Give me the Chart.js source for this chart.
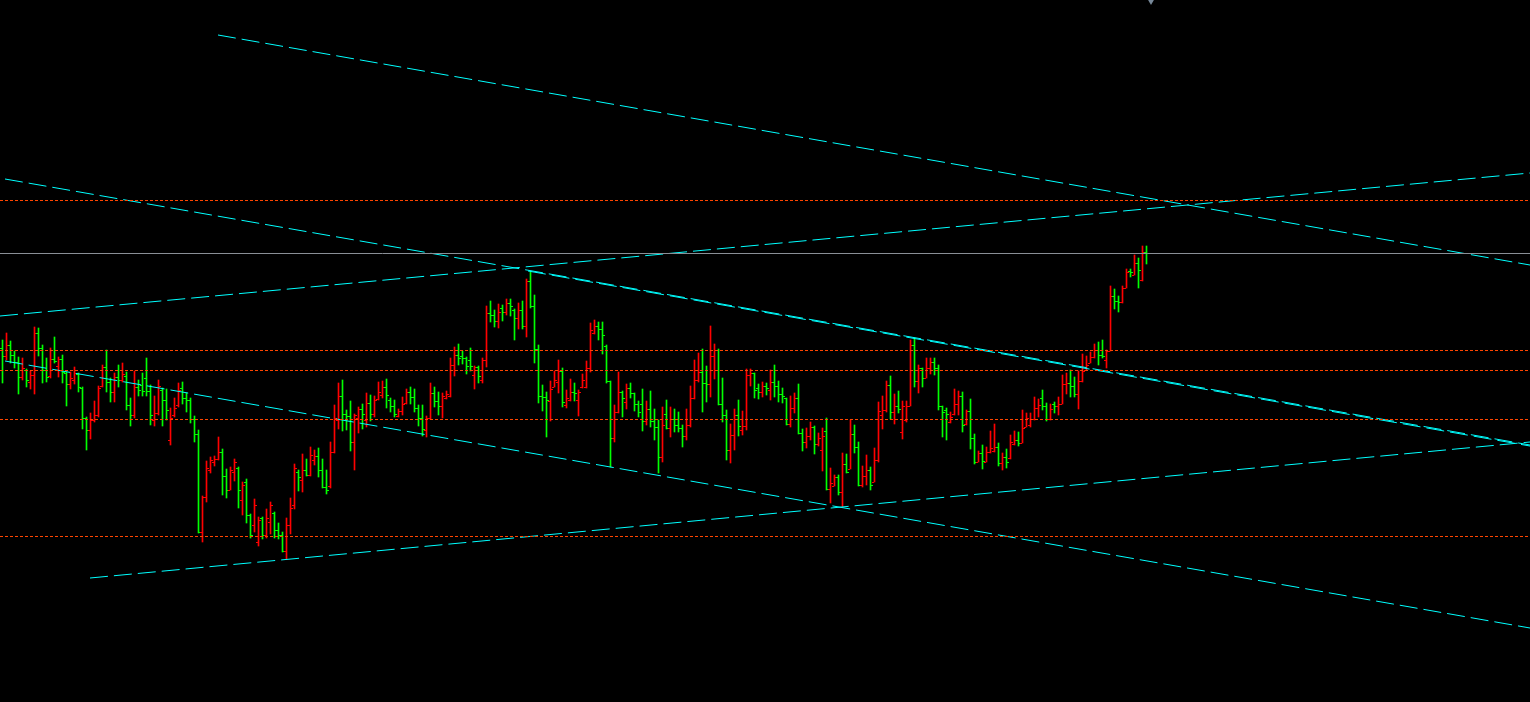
<!DOCTYPE html>
<html>
<head>
<meta charset="utf-8">
<script src="https://cdn.jsdelivr.net/npm/chart.js@4.4.1/dist/chart.umd.min.js"></script>
<style>
  html, body { margin: 0; padding: 0; background: #000; overflow: hidden; }
  #wrap { width: 1530px; height: 702px; background: #000; }
</style>
</head>
<body>
<div id="wrap"><canvas id="chart" width="1530" height="702"></canvas></div>
<script>
// OHLC bars, one per index (oldest first)
const opens = [
  1.3652,1.3644,1.3655,1.3645,1.3638,1.3623,1.3630,1.3618,1.3625,1.3667,
  1.3652,1.3630,1.3624,1.3641,1.3634,1.3641,1.3627,1.3616,1.3620,1.3626,
  1.3612,1.3582,1.3570,1.3580,1.3585,1.3614,1.3633,1.3618,1.3608,1.3623,
  1.3620,1.3624,1.3595,1.3585,1.3613,1.3615,1.3622,1.3609,1.3580,1.3587,
  1.3610,1.3600,1.3560,1.3585,1.3595,1.3612,1.3602,1.3600,1.3581,1.3566,
  1.3468,1.3503,1.3530,1.3538,1.3541,1.3548,1.3524,1.3510,1.3528,1.3532,
  1.3500,1.3518,1.3485,1.3475,1.3458,1.3482,1.3465,1.3478,1.3487,1.3470,
  1.3465,1.3449,1.3475,1.3495,1.3528,1.3520,1.3530,1.3525,1.3540,1.3544,
  1.3530,1.3513,1.3514,1.3548,1.3580,1.3604,1.3586,1.3584,1.3558,1.3582,
  1.3591,1.3580,1.3597,1.3586,1.3601,1.3605,1.3613,1.3600,1.3594,1.3584,
  1.3589,1.3597,1.3608,1.3603,1.3592,1.3582,1.3570,1.3582,1.3607,1.3599,
  1.3594,1.3602,1.3604,1.3635,1.3645,1.3644,1.3642,1.3640,1.3625,1.3633,
  1.3620,1.3640,1.3687,1.3685,1.3679,1.3692,1.3688,1.3697,1.3690,1.3682,
  1.3690,1.3674,1.3719,1.3694,1.3651,1.3604,1.3603,1.3599,1.3613,1.3618,
  1.3629,1.3595,1.3600,1.3608,1.3600,1.3613,1.3613,1.3632,1.3667,1.3674,
  1.3671,1.3654,1.3619,1.3562,1.3588,1.3608,1.3598,1.3612,1.3607,1.3596,
  1.3596,1.3579,1.3591,1.3579,1.3573,1.3543,1.3586,1.3572,1.3581,1.3575,
  1.3572,1.3564,1.3575,1.3602,1.3620,1.3628,1.3617,1.3616,1.3644,1.3650,
  1.3596,1.3585,1.3550,1.3565,1.3585,1.3570,1.3574,1.3625,1.3627,1.3612,
  1.3608,1.3614,1.3610,1.3618,1.3614,1.3606,1.3602,1.3576,1.3592,1.3602,
  1.3567,1.3558,1.3564,1.3573,1.3556,1.3550,1.3569,1.3511,1.3514,1.3523,
  1.3508,1.3536,1.3531,1.3566,1.3553,1.3515,1.3524,1.3530,1.3518,1.3540,
  1.3585,1.3590,1.3615,1.3588,1.3594,1.3568,1.3580,1.3594,1.3655,1.3619,
  1.3632,1.3622,1.3632,1.3638,1.3632,1.3594,1.3590,1.3578,1.3586,1.3596,
  1.3604,1.3576,1.3589,1.3562,1.3538,1.3547,1.3538,1.3548,1.3549,1.3553,
  1.3537,1.3543,1.3542,1.3556,1.3560,1.3557,1.3573,1.3575,1.3581,1.3592,
  1.3602,1.3594,1.3581,1.3596,1.3594,1.3596,1.3616,1.3617,1.3614,1.3606,
  1.3619,1.3630,1.3637,1.3643,1.3650,1.3645,1.3640,1.3649,1.3704,1.3699,
  1.3698,1.3712,1.3729,1.3725,1.3737,1.3720,1.3748
];
const highs = [
  1.3660,1.3667,1.3659,1.3649,1.3643,1.3642,1.3631,1.3629,1.3673,1.3672,
  1.3655,1.3642,1.3652,1.3663,1.3643,1.3645,1.3628,1.3628,1.3633,1.3627,
  1.3613,1.3583,1.3587,1.3599,1.3614,1.3635,1.3650,1.3622,1.3627,1.3635,
  1.3637,1.3628,1.3602,1.3629,1.3620,1.3627,1.3642,1.3615,1.3604,1.3620,
  1.3612,1.3611,1.3592,1.3602,1.3617,1.3618,1.3607,1.3602,1.3584,1.3570,
  1.3504,1.3539,1.3543,1.3544,1.3563,1.3551,1.3531,1.3533,1.3541,1.3533,
  1.3518,1.3521,1.3486,1.3501,1.3483,1.3483,1.3491,1.3498,1.3488,1.3477,
  1.3468,1.3482,1.3502,1.3536,1.3530,1.3546,1.3541,1.3553,1.3550,1.3552,
  1.3541,1.3530,1.3558,1.3595,1.3617,1.3620,1.3590,1.3599,1.3586,1.3593,
  1.3596,1.3607,1.3605,1.3604,1.3618,1.3619,1.3621,1.3602,1.3600,1.3591,
  1.3603,1.3611,1.3613,1.3611,1.3595,1.3595,1.3584,1.3617,1.3613,1.3608,
  1.3607,1.3609,1.3642,1.3653,1.3656,1.3649,1.3643,1.3652,1.3634,1.3634,
  1.3642,1.3694,1.3699,1.3690,1.3696,1.3695,1.3701,1.3701,1.3691,1.3697,
  1.3699,1.3721,1.3728,1.3705,1.3655,1.3615,1.3608,1.3619,1.3629,1.3640,
  1.3632,1.3610,1.3621,1.3617,1.3610,1.3626,1.3639,1.3677,1.3680,1.3678,
  1.3678,1.3655,1.3619,1.3595,1.3628,1.3609,1.3616,1.3617,1.3607,1.3599,
  1.3611,1.3599,1.3609,1.3591,1.3580,1.3593,1.3600,1.3593,1.3591,1.3588,
  1.3575,1.3591,1.3614,1.3640,1.3647,1.3651,1.3634,1.3674,1.3656,1.3651,
  1.3622,1.3590,1.3576,1.3591,1.3600,1.3589,1.3631,1.3631,1.3627,1.3616,
  1.3618,1.3617,1.3630,1.3635,1.3619,1.3612,1.3602,1.3604,1.3607,1.3616,
  1.3571,1.3572,1.3578,1.3574,1.3567,1.3572,1.3582,1.3532,1.3525,1.3525,
  1.3547,1.3546,1.3580,1.3575,1.3558,1.3534,1.3545,1.3533,1.3552,1.3598,
  1.3604,1.3619,1.3624,1.3606,1.3609,1.3599,1.3599,1.3660,1.3662,1.3635,
  1.3632,1.3642,1.3642,1.3642,1.3635,1.3594,1.3592,1.3588,1.3611,1.3609,
  1.3608,1.3590,1.3601,1.3566,1.3549,1.3555,1.3553,1.3569,1.3576,1.3557,
  1.3547,1.3551,1.3565,1.3569,1.3568,1.3590,1.3587,1.3587,1.3603,1.3601,
  1.3610,1.3597,1.3596,1.3598,1.3603,1.3625,1.3627,1.3630,1.3623,1.3629,
  1.3646,1.3644,1.3648,1.3656,1.3658,1.3660,1.3650,1.3714,1.3711,1.3704,
  1.3714,1.3731,1.3731,1.3745,1.3742,1.3754,1.3754
];
const lows = [
  1.3617,1.3640,1.3637,1.3632,1.3606,1.3620,1.3613,1.3611,1.3606,1.3644,
  1.3617,1.3618,1.3622,1.3637,1.3623,1.3617,1.3594,1.3611,1.3616,1.3608,
  1.3571,1.3550,1.3561,1.3578,1.3583,1.3613,1.3608,1.3598,1.3598,1.3613,
  1.3618,1.3590,1.3574,1.3582,1.3604,1.3604,1.3604,1.3575,1.3574,1.3585,
  1.3574,1.3580,1.3555,1.3583,1.3593,1.3596,1.3588,1.3577,1.3558,1.3467,
  1.3458,1.3498,1.3527,1.3534,1.3540,1.3505,1.3502,1.3510,1.3519,1.3492,
  1.3485,1.3477,1.3462,1.3468,1.3454,1.3461,1.3462,1.3466,1.3462,1.3461,
  1.3448,1.3441,1.3466,1.3491,1.3509,1.3508,1.3524,1.3524,1.3535,1.3523,
  1.3512,1.3506,1.3512,1.3547,1.3571,1.3569,1.3570,1.3549,1.3530,1.3567,
  1.3571,1.3573,1.3579,1.3583,1.3600,1.3602,1.3592,1.3588,1.3583,1.3583,
  1.3585,1.3596,1.3596,1.3588,1.3574,1.3564,1.3563,1.3581,1.3593,1.3585,
  1.3582,1.3601,1.3603,1.3624,1.3635,1.3636,1.3626,1.3629,1.3611,1.3617,
  1.3617,1.3633,1.3678,1.3673,1.3672,1.3679,1.3685,1.3684,1.3660,1.3671,
  1.3671,1.3663,1.3692,1.3637,1.3597,1.3589,1.3563,1.3579,1.3613,1.3607,
  1.3593,1.3592,1.3599,1.3599,1.3584,1.3612,1.3612,1.3628,1.3666,1.3660,
  1.3646,1.3617,1.3533,1.3558,1.3587,1.3583,1.3591,1.3602,1.3589,1.3583,
  1.3569,1.3575,1.3573,1.3560,1.3527,1.3538,1.3571,1.3563,1.3568,1.3568,
  1.3553,1.3560,1.3573,1.3601,1.3618,1.3588,1.3598,1.3603,1.3621,1.3595,
  1.3578,1.3540,1.3537,1.3550,1.3564,1.3565,1.3570,1.3614,1.3602,1.3601,
  1.3603,1.3605,1.3600,1.3603,1.3598,1.3597,1.3575,1.3573,1.3587,1.3566,
  1.3549,1.3552,1.3560,1.3546,1.3554,1.3529,1.3510,1.3497,1.3514,1.3505,
  1.3493,1.3527,1.3531,1.3547,1.3514,1.3513,1.3515,1.3510,1.3518,1.3538,
  1.3571,1.3588,1.3581,1.3576,1.3587,1.3561,1.3578,1.3594,1.3613,1.3607,
  1.3613,1.3622,1.3626,1.3625,1.3590,1.3563,1.3560,1.3577,1.3585,1.3585,
  1.3568,1.3575,1.3551,1.3536,1.3538,1.3531,1.3538,1.3547,1.3548,1.3534,
  1.3530,1.3532,1.3541,1.3555,1.3554,1.3557,1.3573,1.3573,1.3580,1.3583,
  1.3590,1.3579,1.3580,1.3587,1.3585,1.3596,1.3606,1.3603,1.3603,1.3591,
  1.3618,1.3630,1.3637,1.3642,1.3635,1.3642,1.3632,1.3649,1.3691,1.3688,
  1.3697,1.3712,1.3723,1.3725,1.3712,1.3719,1.3736
];
const closes = [
  1.3644,1.3655,1.3645,1.3638,1.3623,1.3632,1.3620,1.3625,1.3667,1.3652,
  1.3630,1.3623,1.3641,1.3639,1.3641,1.3628,1.3616,1.3622,1.3627,1.3613,
  1.3582,1.3570,1.3580,1.3585,1.3612,1.3633,1.3618,1.3608,1.3623,1.3620,
  1.3626,1.3595,1.3585,1.3613,1.3610,1.3609,1.3609,1.3585,1.3587,1.3614,
  1.3600,1.3590,1.3582,1.3592,1.3610,1.3602,1.3600,1.3581,1.3566,1.3468,
  1.3503,1.3532,1.3540,1.3541,1.3548,1.3524,1.3510,1.3530,1.3538,1.3510,
  1.3515,1.3485,1.3465,1.3495,1.3480,1.3465,1.3482,1.3495,1.3470,1.3465,
  1.3449,1.3475,1.3492,1.3532,1.3523,1.3530,1.3525,1.3545,1.3544,1.3530,
  1.3513,1.3510,1.3548,1.3582,1.3604,1.3586,1.3584,1.3558,1.3585,1.3591,
  1.3586,1.3597,1.3586,1.3600,1.3608,1.3613,1.3605,1.3594,1.3586,1.3589,
  1.3596,1.3608,1.3603,1.3592,1.3582,1.3571,1.3582,1.3607,1.3599,1.3594,
  1.3604,1.3606,1.3635,1.3645,1.3642,1.3642,1.3634,1.3634,1.3633,1.3624,
  1.3640,1.3687,1.3685,1.3679,1.3688,1.3688,1.3697,1.3694,1.3682,1.3690,
  1.3674,1.3719,1.3694,1.3651,1.3604,1.3603,1.3600,1.3611,1.3620,1.3629,
  1.3598,1.3602,1.3608,1.3607,1.3608,1.3620,1.3632,1.3670,1.3674,1.3671,
  1.3665,1.3619,1.3562,1.3588,1.3608,1.3602,1.3612,1.3607,1.3596,1.3588,
  1.3579,1.3591,1.3579,1.3573,1.3543,1.3575,1.3572,1.3581,1.3575,1.3572,
  1.3564,1.3575,1.3602,1.3620,1.3628,1.3617,1.3616,1.3644,1.3650,1.3596,
  1.3585,1.3550,1.3565,1.3585,1.3574,1.3574,1.3625,1.3627,1.3610,1.3608,
  1.3614,1.3612,1.3618,1.3614,1.3606,1.3604,1.3576,1.3592,1.3602,1.3567,
  1.3558,1.3564,1.3573,1.3556,1.3562,1.3564,1.3511,1.3517,1.3523,1.3508,
  1.3536,1.3528,1.3566,1.3553,1.3515,1.3524,1.3530,1.3515,1.3540,1.3589,
  1.3590,1.3615,1.3588,1.3594,1.3591,1.3594,1.3594,1.3655,1.3619,1.3632,
  1.3622,1.3632,1.3638,1.3632,1.3594,1.3588,1.3586,1.3583,1.3596,1.3604,
  1.3575,1.3589,1.3562,1.3538,1.3547,1.3539,1.3548,1.3552,1.3553,1.3537,
  1.3543,1.3538,1.3558,1.3560,1.3557,1.3572,1.3582,1.3581,1.3592,1.3595,
  1.3594,1.3581,1.3591,1.3594,1.3596,1.3616,1.3617,1.3614,1.3606,1.3619,
  1.3629,1.3635,1.3643,1.3650,1.3645,1.3644,1.3649,1.3704,1.3699,1.3698,
  1.3712,1.3728,1.3728,1.3737,1.3730,1.3748,1.3747
];

// horizontal levels and the bid line
const levels = [1.37995, 1.36495, 1.36295, 1.35805, 1.34635];
const bidPrice = 1.37465;

// trend lines: [startBar, startPrice, endBar, endPrice]
const trendLines = [
  [53.875, 1.3965, 381.875, 1.3735],
  [0.625, 1.3821, 381.875, 1.3555],
  [131.375, 1.3729, 381.875, 1.3554],
  [-0.625, 1.3684, 381.875, 1.3827],
  [0.625, 1.3639, 381.875, 1.3372],
  [21.875, 1.3422, 381.875, 1.3558]
];

// chart shift marker (future bar position)
const shiftBar = 287.125;

// visible window
const X_MIN = -0.625, X_MAX = 381.875;
const Y_MIN = 1.3298, Y_MAX = 1.4000;
const TICK_NUDGE = 0.00005; // half a pixel, keeps 1px ticks crisp

const UP = '#ff0000';
const DOWN = '#00ff00';

const idx = opens.map((_, i) => i);
const barColors = idx.map(i => closes[i] > opens[i] ? UP : DOWN);

const datasets = [];

datasets.push({
  type: 'bar',
  data: idx.map(i => ({ x: i, y: [lows[i], highs[i]] })),
  backgroundColor: barColors,
  borderWidth: 0,
  barThickness: 1,
  grouped: false,
  order: 10
});

// open tick on the left, close tick on the right
datasets.push({
  type: 'line',
  showLine: false,
  data: idx.map(i => ({ x: i - 0.375, y: opens[i] - TICK_NUDGE })),
  pointStyle: 'line',
  pointRadius: 1,
  pointBorderWidth: 1,
  pointBorderColor: barColors,
  pointBackgroundColor: barColors,
  order: 9
});
datasets.push({
  type: 'line',
  showLine: false,
  data: idx.map(i => ({ x: i + 0.375, y: closes[i] - TICK_NUDGE })),
  pointStyle: 'line',
  pointRadius: 1,
  pointBorderWidth: 1,
  pointBorderColor: barColors,
  pointBackgroundColor: barColors,
  order: 9
});

trendLines.forEach(t => {
  datasets.push({
    type: 'line',
    data: [{ x: t[0], y: t[1] }, { x: t[2], y: t[3] }],
    borderColor: '#00ffff',
    borderWidth: 1,
    borderDash: [18, 6],
    pointRadius: 0,
    order: 2
  });
});

levels.forEach(lv => {
  datasets.push({
    type: 'line',
    data: [{ x: X_MIN, y: lv }, { x: X_MAX, y: lv }],
    borderColor: '#ff4500',
    borderWidth: 1,
    borderDash: [3, 2],
    pointRadius: 0,
    order: 1
  });
});

datasets.push({
  type: 'line',
  data: [{ x: X_MIN, y: bidPrice }, { x: X_MAX, y: bidPrice }],
  borderColor: '#8a8f96',
  borderWidth: 1,
  pointRadius: 0,
  order: 1
});

datasets.push({
  type: 'line',
  showLine: false,
  data: [{ x: shiftBar, y: Y_MAX + 0.0001 }],
  pointStyle: 'triangle',
  rotation: 180,
  pointRadius: 6,
  pointBorderWidth: 0,
  pointBackgroundColor: '#778899',
  clip: false,
  order: 0
});

new Chart(document.getElementById('chart'), {
  type: 'bar',
  data: { datasets: datasets },
  options: {
    responsive: false,
    animation: false,
    events: [],
    layout: { padding: 0, autoPadding: false },
    plugins: {
      legend: { display: false },
      tooltip: { enabled: false }
    },
    scales: {
      x: { type: 'linear', min: X_MIN, max: X_MAX, offset: false, display: false },
      y: { type: 'linear', min: Y_MIN, max: Y_MAX, display: false }
    }
  }
});
</script>
</body>
</html>
